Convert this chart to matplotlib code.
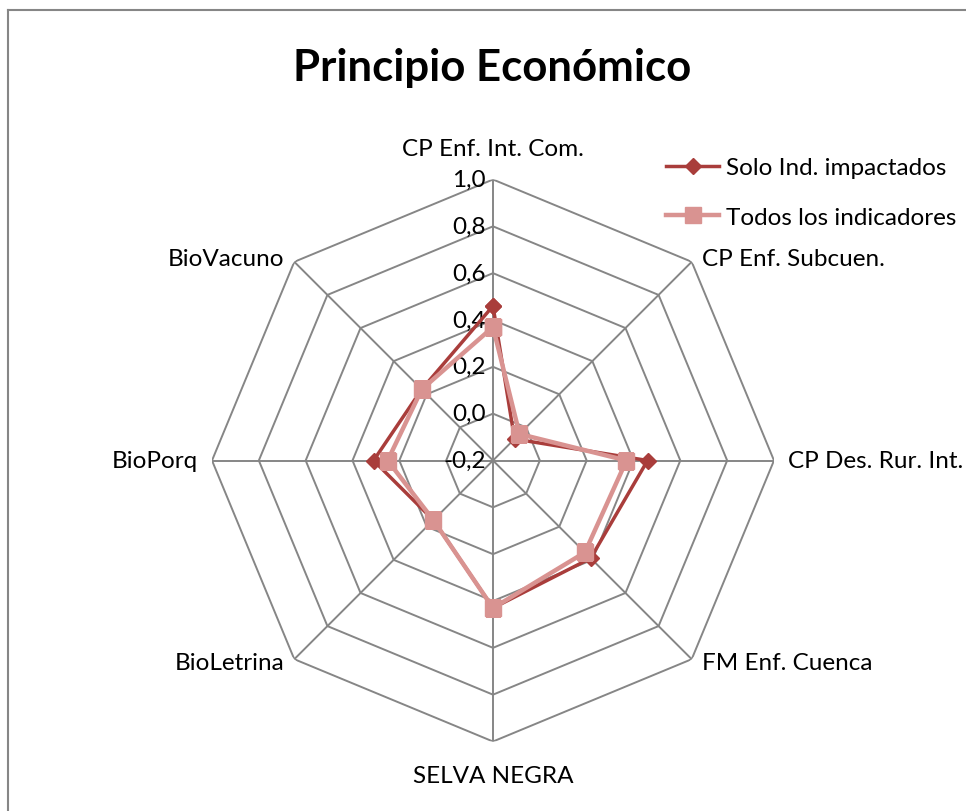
import numpy as np
import matplotlib
matplotlib.use("Agg")
import matplotlib.pyplot as plt
from matplotlib.lines import Line2D

plt.rcParams['font.family'] = ['Lato', 'DejaVu Sans']

categorias = ["CP Enf. Int. Com.", "CP Enf. Subcuen.", "CP Des. Rur. Int.",
              "FM Enf. Cuenca", "SELVA NEGRA", "BioLetrina", "BioPorq",
              "BioVacuno"]
solo_impactados = [0.46, -0.07, 0.46, 0.39, 0.43, 0.16, 0.31, 0.23]
todos_indicadores = [0.37, -0.04, 0.37, 0.355, 0.43, 0.16, 0.25, 0.23]
niveles = [-0.2, 0.0, 0.2, 0.4, 0.6, 0.8, 1.0]
etiquetas_niveles = ["-0,2", "0,0", "0,2", "0,4", "0,6", "0,8", "1,0"]

col_solo = "#A93D3B"
col_todos = "#D99391"
gris = "#868686"
fs = 17.5

W, H = 966, 812
fig = plt.figure(figsize=(W / 100, H / 100), dpi=100)

# marco del grafico (solo se ven borde izq. y superior)
fig.add_artist(Line2D([8 / W, 8 / W], [0, 1 - 11 / H], transform=fig.transFigure,
                      color=gris, lw=1.5))
fig.add_artist(Line2D([8 / W, 1], [1 - 11 / H, 1 - 11 / H], transform=fig.transFigure,
                      color=gris, lw=1.5))

cx, cy, R = 493, 461.5, 281
ax = fig.add_axes([(cx - R) / W, (H - cy - R) / H, 2 * R / W, 2 * R / H],
                  projection="polar")
ax.set_theta_zero_location("N")
ax.set_theta_direction(-1)
ax.set_ylim(niveles[0], niveles[-1])
ax.grid(False)
ax.spines["polar"].set_visible(False)
ax.set_xticks([])
ax.set_yticks([])
ax.patch.set_alpha(0)

n = len(categorias)
ang = np.arange(n) * 2 * np.pi / n
ang_c = np.append(ang, ang[0])

# anillos octogonales y radios
for nv in niveles[1:]:
    ax.plot(ang_c, [nv] * (n + 1), color=gris, lw=1.4, zorder=1)
for a in ang:
    ax.plot([a, a], [niveles[0], niveles[-1]], color=gris, lw=1.4, zorder=1)

# etiquetas del eje radial
for nv, txt in zip(niveles, etiquetas_niveles):
    ax.annotate(txt, (0, nv), xytext=(-7, 0), textcoords="offset pixels",
                ha="right", va="center", fontsize=fs, color="black", zorder=3)

# series
ax.plot(ang_c, solo_impactados + solo_impactados[:1], color=col_solo, lw=2.5,
        marker="D", ms=8, zorder=4, label="Solo Ind. impactados")
ax.plot(ang_c, todos_indicadores + todos_indicadores[:1], color=col_todos, lw=3.2,
        marker="s", ms=11, zorder=5, label="Todos los indicadores")

# etiquetas de categoria
for a, cat in zip(ang, categorias):
    s, c = np.sin(a), np.cos(a)
    if abs(s) < 0.1:
        ha = "center"
    elif s > 0:
        ha = "left"
    else:
        ha = "right"
    if abs(c) < 0.1:
        va = "center"
    elif c > 0:
        va = "bottom" if abs(s) < 0.1 else "center"
    else:
        va = "top" if abs(s) < 0.1 else "center"
    off = 14
    dy = (6 if c > 0 else 10) * c if abs(s) < 0.1 else -9 * c
    ax.annotate(cat, (a, niveles[-1]), xytext=(off * s, off * c + dy),
                textcoords="offset pixels", ha=ha, va=va, fontsize=fs,
                annotation_clip=False)

fig.text(492 / W, 1 - 68 / H, "Principio Económico", ha="center", va="center",
         fontsize=31.5, fontweight="bold")

fig.legend(loc="upper left", bbox_to_anchor=(666 / W, 1 - 158 / H), frameon=False,
           fontsize=fs, handlelength=2.2, handletextpad=0.25, labelspacing=1.18,
           borderpad=0, borderaxespad=0)

fig.savefig("out.png", dpi=100, facecolor="white")
